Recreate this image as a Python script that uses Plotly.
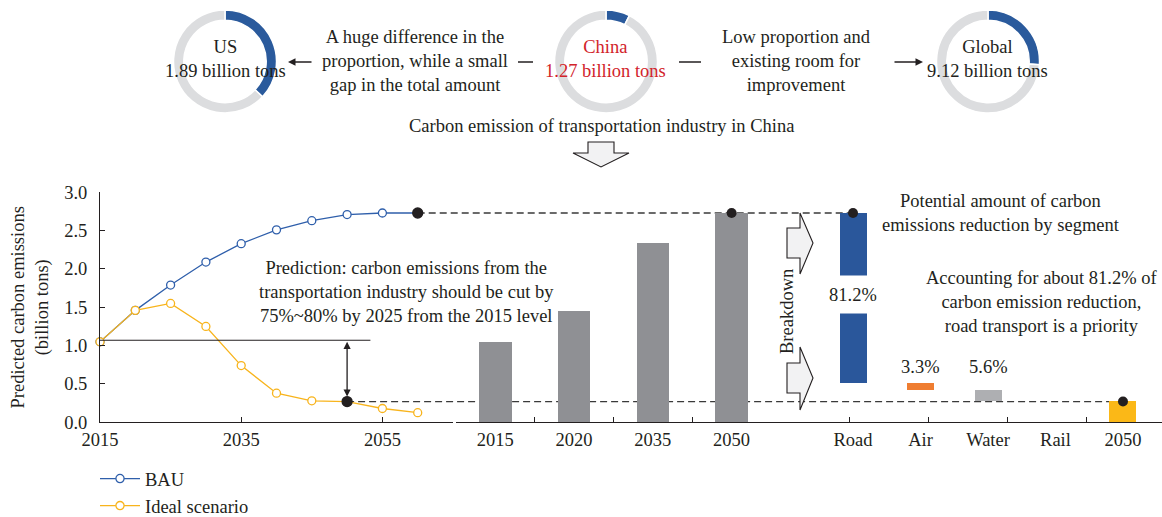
import plotly.graph_objects as go

W, H = 1162, 517
FONT = "Liberation Serif"
INK = "#231f20"
FS = 18.5

# ---- data -------------------------------------------------------------
years = [2015, 2020, 2025, 2030, 2035, 2040, 2045, 2050, 2055, 2060]
bau = [1.05, 1.46, 1.79, 2.09, 2.33, 2.51, 2.63, 2.71, 2.73, 2.73]
ideal = [1.05, 1.46, 1.55, 1.25, 0.74, 0.38, 0.28, 0.27, 0.18, 0.125]

bar_years = ["2015", "2020", "2035", "2050"]
bar_values = [1.05, 1.45, 2.33, 2.73]

segments = ["Road", "Air", "Water", "Rail"]
segment_shares = [0.812, 0.033, 0.056, 0.0]
segment_labels = ["81.2%", "3.3%", "5.6%", ""]
segment_colors = ["#2a579b", "#ef7d31", "#aeafb2", "#8f9094"]

regions = ["US", "China", "Global"]
region_totals = ["1.89 billion tons", "1.27 billion tons", "9.12 billion tons"]
transport_share = [0.37, 0.075, 0.26]
region_text_colors = [INK, "#d2232a", INK]

# ---- geometry helpers (pixel -> paper) --------------------------------
def fx(px):
    return px / W

def fy(py):
    return 1 - py / H

Y_RANGE = [0, 3.0]
y_dom = [fy(422.3), fy(192.3)]
x1_dom = [fx(100), fx(453)]
x2_dom = [fx(456), fx(771)]
x3_dom = [fx(771), 1.0]
x1_range = [2015, 2065]
x3_range = [-1.215, 4.578]
x4_range = [0, 4.965]

def y_paper(v):
    return y_dom[0] + (v - Y_RANGE[0]) / (Y_RANGE[1] - Y_RANGE[0]) * (y_dom[1] - y_dom[0])

def x1_paper(v):
    return x1_dom[0] + (v - x1_range[0]) / (x1_range[1] - x1_range[0]) * (x1_dom[1] - x1_dom[0])

def x3_paper(i):
    return x3_dom[0] + (i - x3_range[0]) / (x3_range[1] - x3_range[0]) * (x3_dom[1] - x3_dom[0])

# waterfall of the 2050 reduction by segment
total_2050 = bar_values[-1]
seg_len = [s * total_2050 for s in segment_shares]
seg_base = []
level = total_2050
for L in seg_len:
    level -= L
    seg_base.append(level)
remaining_2050 = level

fig = go.Figure()

# ---- donuts -----------------------------------------------------------
centers = [225, 606, 988]
R = 51.5
CY = 61.5
for name, share, cx in zip(regions, transport_share, centers):
    fig.add_trace(go.Pie(
        values=[share, 1 - share], labels=["Transport", "Other"],
        hole=0.8, sort=False, direction="clockwise", rotation=0,
        marker=dict(colors=["#2a5a9c", "#dcdddf"], line=dict(color="white", width=1.5)),
        textinfo="none", hoverinfo="skip", showlegend=False, automargin=False,
        domain=dict(x=[fx(cx - R), fx(cx + R)], y=[fy(CY + R), fy(CY - R)]),
    ))

# ---- line chart -------------------------------------------------------
bau_marker = ["white"] * (len(years) - 1) + [INK]
bau_mline = ["#2f5fab"] * (len(years) - 1) + [INK]
fig.add_trace(go.Scatter(
    x=years, y=bau, mode="lines+markers", name="BAU",
    line=dict(color="#2f5fab", width=1.3),
    marker=dict(size=[8] * (len(years) - 1) + [10], color=bau_marker, opacity=1,
                line=dict(color=bau_mline, width=1.3)),
    cliponaxis=False, xaxis="x", yaxis="y",
))
i2050 = years.index(2050)
ideal_marker = ["white"] * len(years)
ideal_mline = ["#f8b41c"] * len(years)
ideal_size = [8] * len(years)
ideal_marker[i2050] = INK
ideal_mline[i2050] = INK
ideal_size[i2050] = 10
fig.add_trace(go.Scatter(
    x=years, y=ideal, mode="lines+markers", name="Ideal scenario",
    line=dict(color="#f8b41c", width=1.3),
    marker=dict(size=ideal_size, color=ideal_marker, opacity=1,
                line=dict(color=ideal_mline, width=1.3)),
    cliponaxis=False, xaxis="x", yaxis="y",
))

# ---- historical / projected bars ------------------------------------
fig.add_trace(go.Bar(
    x=bar_years, y=bar_values, width=0.41, marker=dict(color="#8f9094", line=dict(width=0)),
    showlegend=False, hoverinfo="skip", xaxis="x2", yaxis="y",
))
fig.add_trace(go.Scatter(
    x=[bar_years[-1]], y=[bar_values[-1]], mode="markers",
    marker=dict(size=10, color=INK), showlegend=False, cliponaxis=False,
    hoverinfo="skip", xaxis="x2", yaxis="y",
))

# ---- reduction breakdown ---------------------------------------------
cats = segments + ["2050"]
fig.add_trace(go.Bar(
    x=cats, y=seg_len + [remaining_2050], base=seg_base + [0], width=0.4,
    marker=dict(color=segment_colors + ["#fbb817"], line=dict(width=0)),
    showlegend=False, hoverinfo="skip", xaxis="x3", yaxis="y",
))
fig.add_trace(go.Scatter(
    x=["Road", "2050"], y=[total_2050, remaining_2050], mode="markers",
    marker=dict(size=10, color=INK), showlegend=False, cliponaxis=False,
    hoverinfo="skip", xaxis="x3", yaxis="y",
))
# tick-only overlay axis for the breakdown panel
fig.add_trace(go.Scatter(x=[None], y=[None], showlegend=False, hoverinfo="skip",
                         xaxis="x4", yaxis="y"))

axis_common = dict(showgrid=False, zeroline=False, showline=True, linecolor=INK, linewidth=1,
                   automargin=False,
                   tickfont=dict(family=FONT, size=FS, color=INK), tickcolor=INK)

fig.update_layout(
    template="none",
    width=W, height=H, margin=dict(l=0, r=0, t=0, b=0, pad=0, autoexpand=False),
    paper_bgcolor="white", plot_bgcolor="rgba(0,0,0,0)",
    font=dict(family=FONT, size=FS, color=INK),
    bargap=0,
    xaxis=dict(domain=x1_dom, range=x1_range, anchor="y", ticks="inside", ticklen=5,
               tickvals=[2015, 2035, 2055, 2065], ticktext=["2015", "2035", "2055", ""],
               ticklabelstandoff=0, **axis_common),
    yaxis=dict(domain=y_dom, range=Y_RANGE, anchor="x", ticks="inside", ticklen=5,
               tickvals=[0, 0.5, 1.0, 1.5, 2.0, 2.5, 3.0], tickformat=".1f",
               ticklabelstandoff=8,
               title=dict(text="Predicted carbon emissions<br>(billion tons)",
                          font=dict(family=FONT, size=FS, color=INK), standoff=10),
               **axis_common),
    xaxis2=dict(domain=x2_dom, anchor="y", type="category", ticks="inside", ticklen=5,
                tickson="boundaries", ticklabelstandoff=0, **axis_common),
    xaxis3=dict(domain=x3_dom, anchor="y", type="category", range=x3_range, ticks="",
                ticklabelstandoff=0, **axis_common),
    xaxis4=dict(overlaying="x3", anchor="y", range=x4_range, ticks="inside", ticklen=5,
                tickvals=[0, 1, 2, 3, 4], showticklabels=False, **axis_common),
    legend=dict(x=fx(95), y=fy(460), xanchor="left", yanchor="top",
                bgcolor="rgba(0,0,0,0)", borderwidth=0,
                font=dict(family=FONT, size=FS, color=INK),
                itemwidth=40, tracegroupgap=0),
)

shapes = []
dash = dict(color="#3a3a3a", width=1.3, dash="7px,4px")
# BAU 2050 level carried across to the breakdown
shapes.append(dict(type="line", xref="paper", yref="paper",
                   x0=x1_paper(years[-1]), x1=x3_paper(0),
                   y0=y_paper(total_2050), y1=y_paper(total_2050), line=dash, layer="below"))
# ideal 2050 level carried across
shapes.append(dict(type="line", xref="paper", yref="paper",
                   x0=x1_paper(2050), x1=x3_paper(4),
                   y0=y_paper(remaining_2050), y1=y_paper(remaining_2050), line=dash, layer="below"))
# 2015 reference level
shapes.append(dict(type="line", xref="x", yref="y", x0=2015, x1=2053.3,
                   y0=1.07, y1=1.07, line=dict(color=INK, width=1.2)))
# connector dashes in the header
for a, b in [(518, 533), (679, 701)]:
    shapes.append(dict(type="line", xref="paper", yref="paper", x0=fx(a), x1=fx(b),
                       y0=fy(62), y1=fy(62), line=dict(color=INK, width=1.5)))

def path(points):
    return "M " + " L ".join(f"{fx(px):.5f},{fy(py):.5f}" for px, py in points) + " Z"

block = dict(type="path", xref="paper", yref="paper", fillcolor="#f2f2f3",
             line=dict(color=INK, width=1.1))
# downward block arrow
shapes.append(dict(path=path([(588, 142), (614, 142), (614, 153), (629, 153), (601, 167),
                              (573, 153), (588, 153)]), **block))
# breakdown block arrows
for top, bot, tip in [(213, 274, 243), (347, 410, 378)]:
    s0, s1 = tip - 15, tip + 15
    shapes.append(dict(path=path([(787, s0), (800, s0), (800, top), (813, tip), (800, bot),
                                  (800, s1), (787, s1)]), **block))
fig.update_layout(shapes=shapes)

ann = []
def text(x, y, s, color=INK, **kw):
    d = dict(x=fx(x), y=fy(y), xref="paper", yref="paper", text=s, showarrow=False,
             xanchor="center", yanchor="middle",
             font=dict(family=FONT, size=FS, color=color), align="center")
    d.update(kw)
    ann.append(d)

for name, tot, cx, col in zip(regions, region_totals, centers, region_text_colors):
    text(cx, 58.5, f"{name}<br>{tot}", col)
text(415, 61, "A huge difference in the<br>proportion, while a small<br>gap in the total amount")
text(797, 61, "Low proportion and<br>existing room for<br>improvement")
text(601, 126, "Carbon emission of transportation industry in China")
text(406, 292, "Prediction: carbon emissions from the<br>transportation industry should be cut by<br>75%~80% by 2025 from the 2015 level")
text(1001, 213, "Potential amount of carbon<br>emissions reduction by segment")
text(1042, 302, "Accounting for about 81.2% of<br>carbon emission reduction,<br>road transport is a priority")
text(787, 312, "Breakdown", textangle=-90)

# header arrows
ann.append(dict(x=fx(288), y=fy(62), xref="paper", yref="paper", ax=25, ay=0, text="",
                showarrow=True, arrowhead=2, arrowsize=1, arrowwidth=1.5, arrowcolor=INK))
ann.append(dict(x=fx(923), y=fy(62), xref="paper", yref="paper", ax=-30, ay=0, text="",
                showarrow=True, arrowhead=2, arrowsize=1, arrowwidth=1.5, arrowcolor=INK))

# double arrow between 2015 level and the ideal 2050 value
ann.append(dict(x=2050, y=ideal[i2050], xref="x", yref="y", ax=2050, ay=1.07,
                axref="x", ayref="y", text="", showarrow=True, arrowhead=2, startarrowhead=2,
                arrowside="end+start", arrowsize=1.1, startarrowsize=1.1, arrowwidth=1.3,
                arrowcolor=INK, standoff=5))

# segment share labels
ann.append(dict(x="Road", y=seg_base[0] + seg_len[0] / 2, xref="x3", yref="y",
                text=segment_labels[0], showarrow=False, bgcolor="white", height=35,
                xanchor="center", yanchor="middle",
                yshift=3, font=dict(family=FONT, size=FS, color=INK)))
for seg, lab in zip(segments[1:3], segment_labels[1:3]):
    ann.append(dict(x=seg, y=seg_base[0], xref="x3", yref="y", text=lab, showarrow=False,
                    xanchor="center", yanchor="bottom", yshift=4,
                    font=dict(family=FONT, size=FS, color=INK)))

fig.update_layout(annotations=ann)
fig.write_html("out.html")
